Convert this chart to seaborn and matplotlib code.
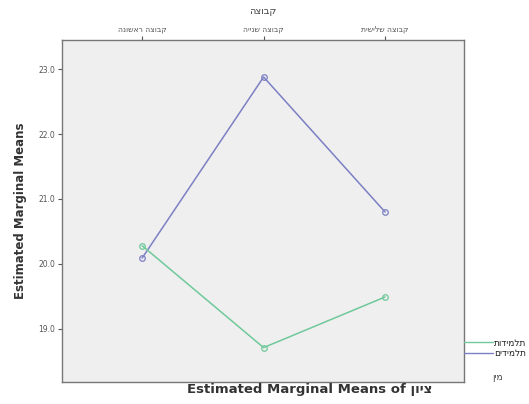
import matplotlib
matplotlib.use("Agg")
import matplotlib.pyplot as plt
from matplotlib.lines import Line2D
import pandas as pd
import seaborn as sns

# Estimated marginal means per group, one series per legend entry
groups = ["קבוצה ראשונה", "קבוצה שנייה", "קבוצה שלישית"]
series_names = ["תלמידים", "תלמידות"]
means_a = [20.09, 22.88, 20.80]
means_b = [20.28, 18.71, 19.49]
y_ticks = [19.0, 20.0, 21.0, 22.0, 23.0]
x_title = "קבוצה"
legend_title = "מין"
dv_name = "ציון"
colors = ["#7c80c4", "#6fc99a"]


def rtl(s):
    """Hebrew is drawn left-to-right by matplotlib, so reverse it."""
    return " ".join(w[::-1] for w in s.split(" ")[::-1])


df = pd.DataFrame({
    "pos": list(range(len(groups))) * 2,
    "mean": means_a + means_b,
    "series": [series_names[0]] * 3 + [series_names[1]] * 3,
})

sns.set_style("white")
plt.rcParams["font.family"] = ["DejaVu Sans"]

fig = plt.figure(figsize=(5.29, 4.04), dpi=100)
ax = fig.add_axes([62 / 529, 1 - 382 / 404, (464 - 62) / 529, (382 - 40) / 404])
ax.set_facecolor("#efefef")

sns.lineplot(data=df, x="pos", y="mean", hue="series", palette=colors,
             marker="o", markersize=4, markerfacecolor="none",
             markeredgewidth=0.9, linewidth=1.1, sort=False, legend=False, ax=ax)
for ln, c in zip(ax.get_lines(), colors):
    ln.set_markeredgecolor(c)

ax.set_xlim(-0.66, 2.65)
ax.set_ylim(18.18, 23.45)
ax.set_yticks(y_ticks)
ax.set_yticklabels([f"{v:.1f}" for v in y_ticks], fontsize=5.5, color="#555555")
ax.set_xticks(range(len(groups)))
ax.set_xticklabels([rtl(g) for g in groups], fontsize=5.5, color="#555555")
ax.xaxis.tick_top()
ax.xaxis.set_label_position("top")
ax.tick_params(axis="both", direction="out", length=3, width=0.8, color="#555555", pad=2)
ax.tick_params(axis="x", top=True, bottom=False)
ax.tick_params(axis="y", left=True)
for s in ax.spines.values():
    s.set_color("#777777")
    s.set_linewidth(1.0)

ax.set_xlabel(rtl(x_title), fontsize=7, color="#444444", labelpad=7)
ax.set_ylabel("Estimated Marginal Means", fontsize=8.5, fontweight="bold",
              color="#333333", labelpad=8)

fig.text(310 / 529, 1 - 390 / 404, f"Estimated Marginal Means of {rtl(dv_name)}",
         ha="center", va="center", fontsize=9.5, fontweight="bold", color="#333333")

handles = [Line2D([], [], color=colors[1], lw=1.0),
           Line2D([], [], color=colors[0], lw=1.0)]
fig.legend(handles, [rtl(series_names[1]), rtl(series_names[0])],
           loc="upper left", bbox_to_anchor=(460 / 529, 1 - 335 / 404),
           frameon=False, fontsize=6.5, handlelength=3.2, handletextpad=0.2,
           labelspacing=0.2, borderaxespad=0)
fig.text(497 / 529, 1 - 377 / 404, rtl(legend_title), ha="center", va="center",
         fontsize=6.5, color="#444444")

fig.savefig("out.png", dpi=100, facecolor="white")
